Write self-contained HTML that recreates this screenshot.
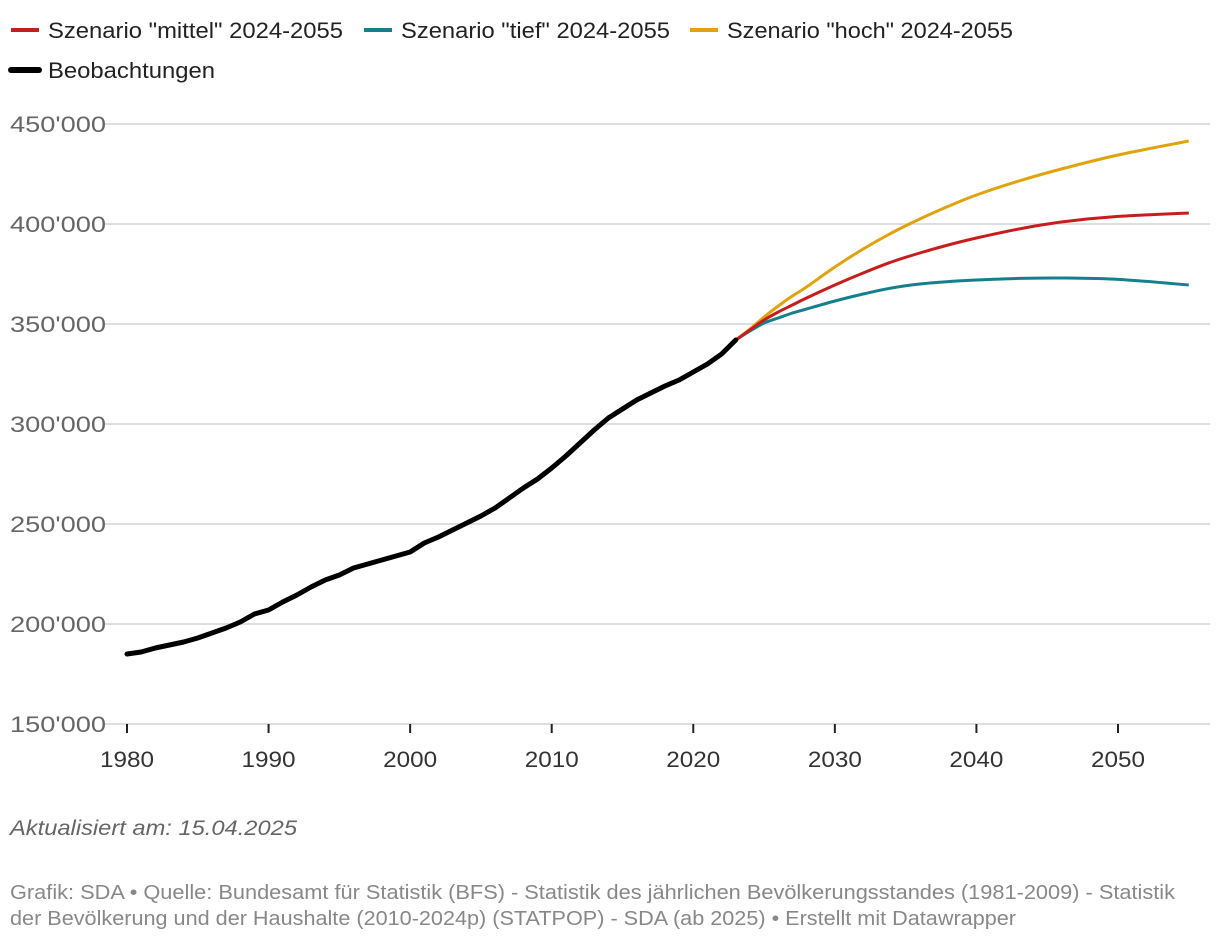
<!DOCTYPE html>
<html><head><meta charset="utf-8"><style>
body{margin:0;background:#fff;font-family:"Liberation Sans",sans-serif}
svg text{font-family:"Liberation Sans",sans-serif}
</style></head><body>
<svg id="c" width="1220" height="942">
<g>
<g><line x1="11" y1="30" x2="39" y2="30" stroke="#c71e1d" stroke-width="4"/><text x="48" y="38" font-size="22" fill="#222" textLength="295" lengthAdjust="spacingAndGlyphs">Szenario "mittel" 2024-2055</text></g>
<g><line x1="364" y1="30" x2="392" y2="30" stroke="#15808d" stroke-width="4"/><text x="401" y="38" font-size="22" fill="#222" textLength="269" lengthAdjust="spacingAndGlyphs">Szenario "tief" 2024-2055</text></g>
<g><line x1="690" y1="30" x2="718" y2="30" stroke="#e0a30f" stroke-width="4"/><text x="727" y="38" font-size="22" fill="#222" textLength="286" lengthAdjust="spacingAndGlyphs">Szenario "hoch" 2024-2055</text></g>
<g><line x1="11" y1="70" x2="39" y2="70" stroke="#000" stroke-width="6" stroke-linecap="round"/><text x="48" y="78" font-size="22" fill="#222" textLength="167" lengthAdjust="spacingAndGlyphs">Beobachtungen</text></g>
</g>
<g id="grid"></g><g id="series"></g>
<text x="10" y="835" font-size="21" font-style="italic" fill="#666" textLength="287" lengthAdjust="spacingAndGlyphs">Aktualisiert am: 15.04.2025</text>
<text x="10" y="899" font-size="20" fill="#888" textLength="1165" lengthAdjust="spacingAndGlyphs">Grafik: SDA • Quelle: Bundesamt für Statistik (BFS) - Statistik des jährlichen Bevölkerungsstandes (1981-2009) - Statistik</text>
<text x="10" y="925" font-size="20" fill="#888" textLength="1006" lengthAdjust="spacingAndGlyphs">der Bevölkerung und der Haushalte (2010-2024p) (STATPOP) - SDA (ab 2025) • Erstellt mit Datawrapper</text>
</svg>
<script>
const obsYears=[1980,1981,1982,1983,1984,1985,1986,1987,1988,1989,1990,1991,1992,1993,1994,1995,1996,1997,1998,1999,2000,2001,2002,2003,2004,2005,2006,2007,2008,2009,2010,2011,2012,2013,2014,2015,2016,2017,2018,2019,2020,2021,2022,2023];
const obsValues=[185000,186000,188000,189500,191000,193000,195500,198000,201000,205000,207000,211000,214500,218500,222000,224500,228000,230000,232000,234000,236000,240500,243500,247000,250500,254000,258000,263000,268000,272500,278000,284000,290500,297000,303000,307500,312000,315500,319000,322000,326000,330000,335000,342000];
const projYears=[2023,2024,2025,2026,2027,2028,2030,2032,2034,2036,2038,2040,2043,2046,2050,2055];
const mittel=[342000,347000,352000,356000,359500,363000,369500,375500,381000,385500,389500,393000,397500,401000,403800,405500];
const tief=[342000,346500,350500,353000,355500,357500,361500,365000,368000,370000,371200,372000,372800,373000,372300,369500];
const hoch=[342000,347500,353500,359000,364000,368500,378500,387500,395500,402500,408800,414500,421500,427500,434500,441500];
const yTicks=[150000,200000,250000,300000,350000,400000,450000];
const xTicks=[1980,1990,2000,2010,2020,2030,2040,2050];
const X=y=>127+(y-1980)*(1118-127)/70;
const Y=v=>724-(v-150000)/300000*600;
const NS='http://www.w3.org/2000/svg';
function mk(t,a,p){const e=document.createElementNS(NS,t);for(const k in a)e.setAttribute(k,a[k]);p.appendChild(e);return e;}
const g=document.getElementById('grid'),s=document.getElementById('series');
yTicks.forEach(v=>{
 const l=mk('line',{x1:X(1980)-22,x2:1210,y1:Y(v),y2:Y(v),stroke:'#d4d4d4','stroke-width':1.5},g);
 
 
 const t=mk('text',{x:10,y:Y(v)+8,'font-size':22,fill:'#666',textLength:96,lengthAdjust:'spacingAndGlyphs'},g);
 t.textContent=String(v/1000)+"'000";
 
 
});
xTicks.forEach(yr=>{
 const l=mk('line',{x1:X(yr),x2:X(yr),y1:724,y2:733,stroke:'#222','stroke-width':2},g);
 
 
 const t=mk('text',{x:X(yr)-27,y:767,'font-size':22,fill:'#333',textLength:54,lengthAdjust:'spacingAndGlyphs'},g);
 t.textContent=yr;
 
 
});
function path(xs,vs){
 const p=xs.map((x,i)=>[X(x),Y(vs[i])]);let d='M'+p[0];
 for(let i=0;i<p.length-1;i++){const p0=p[i-1]||p[i],p1=p[i],p2=p[i+1],p3=p[i+2]||p2;
  d+=' C'+(p1[0]+(p2[0]-p0[0])/6)+','+(p1[1]+(p2[1]-p0[1])/6)+' '+(p2[0]-(p3[0]-p1[0])/6)+','+(p2[1]-(p3[1]-p1[1])/6)+' '+p2;}
 return d;}
[[tief,'#15808d','line-tief'],[hoch,'#e0a30f','line-hoch'],[mittel,'#c71e1d','line-mittel']].forEach(([v,c,n])=>{
 const e=mk('path',{d:path(projYears,v),fill:'none',stroke:c,'stroke-width':3},s);
 
 
});
const ob=mk('polyline',{points:obsYears.map((y,i)=>X(y)+','+Y(obsValues[i])).join(' '),fill:'none',stroke:'#000','stroke-width':5,'stroke-linejoin':'round','stroke-linecap':'round'},s);


</script>
</body></html>
